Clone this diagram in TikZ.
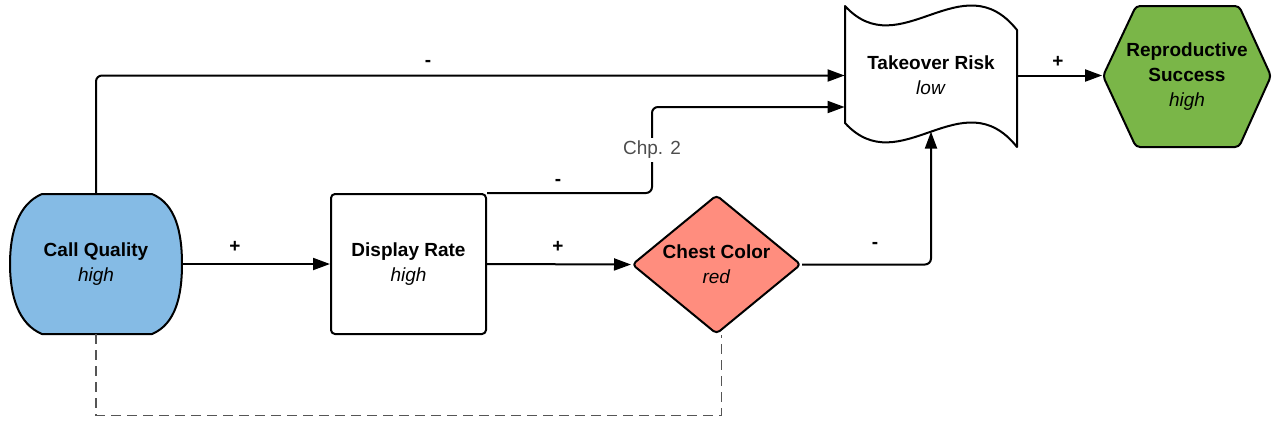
\documentclass[tikz,border=0pt]{standalone}
\usepackage{fontspec}
\setmainfont{Liberation Sans}
\usetikzlibrary{positioning,arrows.meta,shapes.geometric,calc}
\definecolor{cqblue}{HTML}{85BBE5}
\definecolor{ccred}{HTML}{FF8D7E}
\definecolor{rsgreen}{HTML}{7AB648}
\definecolor{chpgray}{HTML}{4D4D4D}
\definecolor{tiegray}{HTML}{555555}
\tikzset{
  txt/.style={align=center,inner sep=0pt,font=\fontsize{9.5}{12.5}\selectfont},
  lnk/.style={line width=1pt,-{Triangle[length=8.5pt,width=6pt]}},
  sgn/.style={font=\fontsize{9.5}{12.5}\selectfont\bfseries,inner sep=0pt},
  outl/.style={line width=1pt,line join=round},
}
\newcommand{\lbl}[2]{\textbf{#1}\\\textit{#2}}
\begin{document}
\begin{tikzpicture}[x=0.5pt,y=-0.5pt]
  \useasboundingbox (0,0) rectangle (1273,425);
  \draw[outl,fill=cqblue] (42,194) -- (152,194) .. controls (176,204) and (182,233) .. (182,264) .. controls (182,295) and (176,324) .. (152,334) -- (42,334) .. controls (18,324) and (10,295) .. (10,264) .. controls (10,233) and (18,204) .. (42,194) -- cycle;
  \draw[outl,fill=white] (845,6) .. controls (900,66) and (962,-39) .. (1017,30) -- (1017,147) .. controls (962,78) and (900,183) .. (845,123) coordinate[pos=0.5] (trin) -- cycle;
  \draw[outl,fill=rsgreen,rounded corners=2pt] (1103,76) -- (1136,6) -- (1239,6) -- (1271,76) -- (1239,147) -- (1136,147) -- cycle;
  \node[txt,minimum width=86pt,minimum height=70pt] (cq) at (96,264) {\lbl{Call Quality}{high}};
  \node[txt,outl,draw,fill=white,rounded corners=2pt,minimum width=77.5pt,minimum height=70pt] (dr) at (408.5,264) {\lbl{Display Rate}{high}};
  \node[txt,outl,draw,fill=ccred,diamond,aspect=1.22,rounded corners=2pt,minimum width=84.5pt,minimum height=69.5pt] (cc) at (716.5,264.5) {\lbl{Chest Color}{red}};
  \node[txt,minimum width=86pt,minimum height=71pt] (tr) at (931,75.5) {\lbl{Takeover Risk}{low}};
  \node[txt,minimum width=84.5pt,minimum height=70.5pt] (rs) at (1187,76.5) {\textbf{Reproductive}\\\textbf{Success}\\\textit{high}};
  \coordinate (kink) at (652,107);
  \draw[lnk] (cq.east) -- (dr.west);
  \draw[lnk] (dr.east) -- (cc.west);
  \draw[lnk,rounded corners=3pt] (cc.east) -| (trin);
  \draw[lnk,rounded corners=3pt] (cq.north) |- (tr.west);
  \draw[lnk,rounded corners=3pt] (dr.north east) -| (kink) -- (kink -| tr.west);
  \draw[lnk] (tr.east) -- (tr.east -| rs.west);
  \draw[tiegray,line width=0.65pt,dash pattern=on 5pt off 3pt] (cq.south) -- ++(0,81) -| ([xshift=2.5pt]cc.south);
  \node[txt,fill=white,text=chpgray,inner sep=1.5pt] (chp) at (652,150) {Chp. 2};
  \node[sgn] (s1) at (235,247) {+};
  \node[sgn] (s2) at (558,247) {+};
  \node[sgn] (s3) at (875,245) {-};
  \node[sgn] (s4) at (428,63) {-};
  \node[sgn] (s5) at (558,182) {-};
  \node[sgn] (s6) at (1058,62) {+};
\end{tikzpicture}
\end{document}
